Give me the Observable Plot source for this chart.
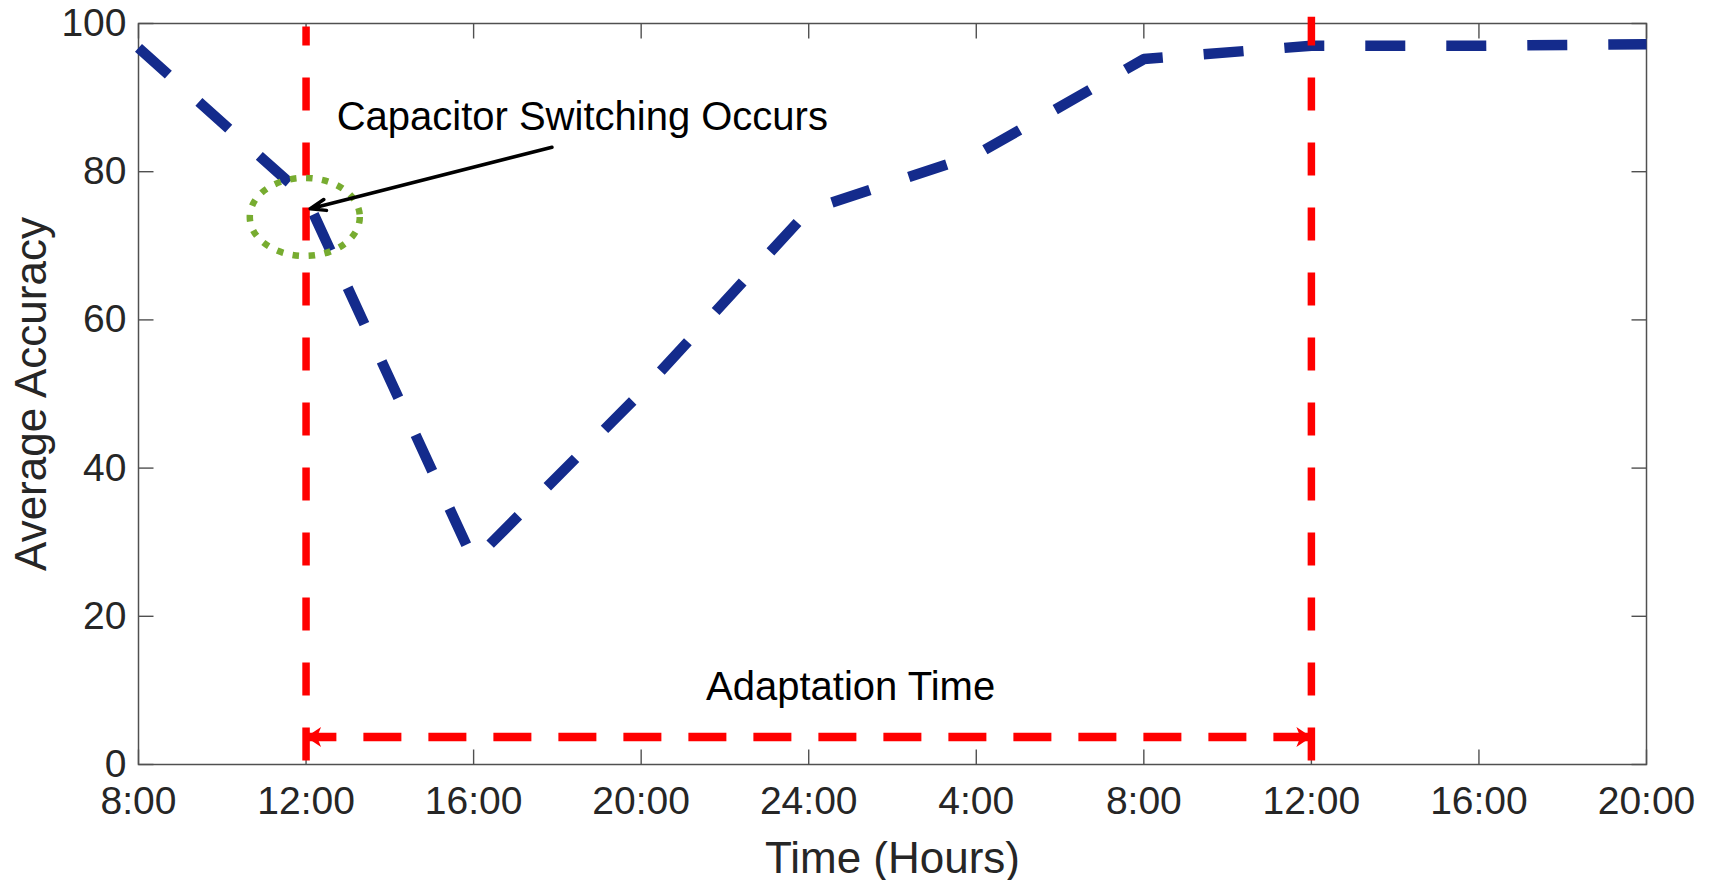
<!DOCTYPE html>
<html>
<head>
<meta charset="utf-8">
<script src="https://cdn.jsdelivr.net/npm/d3@7"></script>
<script src="https://cdn.jsdelivr.net/npm/@observablehq/plot@0.6"></script>
<style>
  html, body { margin: 0; padding: 0; background: #ffffff; }
  #chart svg { display: block; }
</style>
</head>
<body>
<div id="chart"></div>
<script>
// ---- data (hours since 8:00 on day 1) ----
const hours    = [0, 4, 8, 12, 16, 20, 24, 28, 32, 36];
const accuracy = [96.7, 76.5, 27.5, 50.2, 74.8, 82.3, 95.2, 97.0, 97.0, 97.2];

const xTickHours  = [0, 4, 8, 12, 16, 20, 24, 28, 32, 36];
const xTickLabels = ["8:00", "12:00", "16:00", "20:00", "24:00", "4:00", "8:00", "12:00", "16:00", "20:00"];
const yTicks      = [0, 20, 40, 60, 80, 100];
const xDomain = [0, 36];
const yDomain = [0, 100];

// annotation anchors (data units)
const markerHours  = [4, 28];        // capacitor switching, adapted
const markerBottom = [0.55, 0.55];
const markerTop    = [99.6, 100.9];
const spanLevel    = 3.7;            // adaptation-time arrow level
const circleCenter = {x: 3.97, y: 73.9};
const calloutFrom  = {x: 9.87, y: 83.3};
const calloutTo    = {x: 4.1,  y: 75.0};
const calloutText  = {x: 4.73, y: 85.65, label: "Capacitor Switching Occurs"};
const spanText     = {x: 17.0, y: 8.73,  label: "Adaptation Time"};
const xTitle = "Time (Hours)";
const yTitle = "Average Accuracy";

// ---- derived tables ----
const series = hours.map((h, i) => ({h, v: accuracy[i]}));
const markerLines = markerHours.flatMap((h, i) => [
  {id: i, h, v: markerBottom[i]},
  {id: i, h, v: markerTop[i]}
]);
const spanLine = [
  {h: markerHours[1], v: spanLevel},
  {h: markerHours[0], v: spanLevel}
];

// ---- custom symbols (pixel-sized styles) ----
const TICK = 15;
const tickUp    = {draw(c) { c.moveTo(0, 0); c.lineTo(0, -TICK); }};
const tickDown  = {draw(c) { c.moveTo(0, 0); c.lineTo(0,  TICK); }};
const tickRight = {draw(c) { c.moveTo(0, 0); c.lineTo( TICK, 0); }};
const tickLeft  = {draw(c) { c.moveTo(0, 0); c.lineTo(-TICK, 0); }};
const headRight = {draw(c) { c.moveTo(0, 0); c.lineTo(-15, -10); c.lineTo(-11, 0); c.lineTo(-15, 10); c.closePath(); }};
const headLeft  = {draw(c) { c.moveTo(0, 0); c.lineTo( 15, -10); c.lineTo( 11, 0); c.lineTo( 15, 10); c.closePath(); }};
const ellipseSym = {draw(c) {
  const rx = 55, ry = 39, k = 0.5523;
  c.moveTo(rx, 0);
  c.bezierCurveTo(rx, ry * k, rx * k, ry, 0, ry);
  c.bezierCurveTo(-rx * k, ry, -rx, ry * k, -rx, 0);
  c.bezierCurveTo(-rx, -ry * k, -rx * k, -ry, 0, -ry);
  c.bezierCurveTo(rx * k, -ry, rx, -ry * k, rx, 0);
  c.closePath();
}};

const AXIS = "#505050";
const TEXT = "#262626";
const BLUE = "#142B8C";
const RED = "#FF0000";
const GREEN = "#77AC30";
const FONT = "'Liberation Sans', Arial, Helvetica, sans-serif";

const chart = Plot.plot({
  width: 1711,
  height: 880,
  marginLeft: 138,
  marginRight: 65,
  marginTop: 23,
  marginBottom: 116,
  style: {fontFamily: FONT, fontSize: "39px", background: "#ffffff", color: TEXT},
  x: {domain: xDomain},
  y: {domain: yDomain},
  marks: [
    // axes (labels only; inward ticks drawn separately)
    Plot.axisX({ticks: xTickHours, tickFormat: d => xTickLabels[xTickHours.indexOf(d)],
                tickSize: 0, tickPadding: 22, label: null, fill: TEXT, fontSize: 39}),
    Plot.axisY({ticks: yTicks, tickSize: 0, tickPadding: 12, label: null, fill: TEXT, fontSize: 39}),
    Plot.frame({stroke: AXIS, strokeWidth: 1.5}),
    // inward ticks on all four sides
    Plot.dot(xTickHours, {x: d => d, y: yDomain[0], symbol: tickUp,   stroke: AXIS, fill: "none", strokeWidth: 1.4}),
    Plot.dot(xTickHours, {x: d => d, y: yDomain[1], symbol: tickDown, stroke: AXIS, fill: "none", strokeWidth: 1.4}),
    Plot.dot(yTicks, {x: xDomain[0], y: d => d, symbol: tickRight, stroke: AXIS, fill: "none", strokeWidth: 1.4}),
    Plot.dot(yTicks, {x: xDomain[1], y: d => d, symbol: tickLeft,  stroke: AXIS, fill: "none", strokeWidth: 1.4}),
    // accuracy series
    Plot.line(series, {x: "h", y: "v", stroke: BLUE, strokeWidth: 10.5,
                       strokeDasharray: "40,41", strokeLinecap: "butt", strokeLinejoin: "miter"}),
    // red vertical markers
    Plot.line(markerLines, {x: "h", y: "v", z: "id", stroke: RED, strokeWidth: 7.5,
                            strokeDasharray: "33,32", strokeLinecap: "butt"}),
    // adaptation time double arrow
    Plot.line(spanLine, {x: "h", y: "v", stroke: RED, strokeWidth: 8.5,
                         strokeDasharray: "38,27", strokeLinecap: "butt"}),
    Plot.dot([markerHours[1]], {x: d => d, y: spanLevel, symbol: headRight, fill: RED, stroke: "none"}),
    Plot.dot([markerHours[0]], {x: d => d, y: spanLevel, symbol: headLeft,  fill: RED, stroke: "none"}),
    // green dotted circle
    Plot.dot([circleCenter], {x: "x", y: "y", symbol: ellipseSym, fill: "none", stroke: GREEN,
                              strokeWidth: 6.5, strokeDasharray: "6.5,9.5", strokeLinecap: "butt"}),
    // callout arrow
    Plot.arrow([{x1: calloutFrom.x, y1: calloutFrom.y, x2: calloutTo.x, y2: calloutTo.y}],
               {x1: "x1", y1: "y1", x2: "x2", y2: "y2", stroke: "#000000", strokeWidth: 3.5,
                headLength: 7, headAngle: 40}),
    // annotation texts
    Plot.text([calloutText], {x: "x", y: "y", text: "label", textAnchor: "start", lineAnchor: "bottom",
                              fontSize: 40, fill: "#000000"}),
    Plot.text([spanText], {x: "x", y: "y", text: "label", textAnchor: "middle", lineAnchor: "bottom",
                           fontSize: 40, fill: "#000000"}),
    // axis titles
    Plot.text([xTitle], {frameAnchor: "bottom", text: d => d, dy: 108, textAnchor: "middle",
                         lineAnchor: "bottom", fontSize: 44, fill: TEXT}),
    Plot.text([yTitle], {frameAnchor: "left", text: d => d, dx: -93, rotate: -90, textAnchor: "middle",
                         lineAnchor: "bottom", fontSize: 44, fill: TEXT})
  ]
});

document.getElementById("chart").appendChild(chart);
</script>
</body>
</html>
